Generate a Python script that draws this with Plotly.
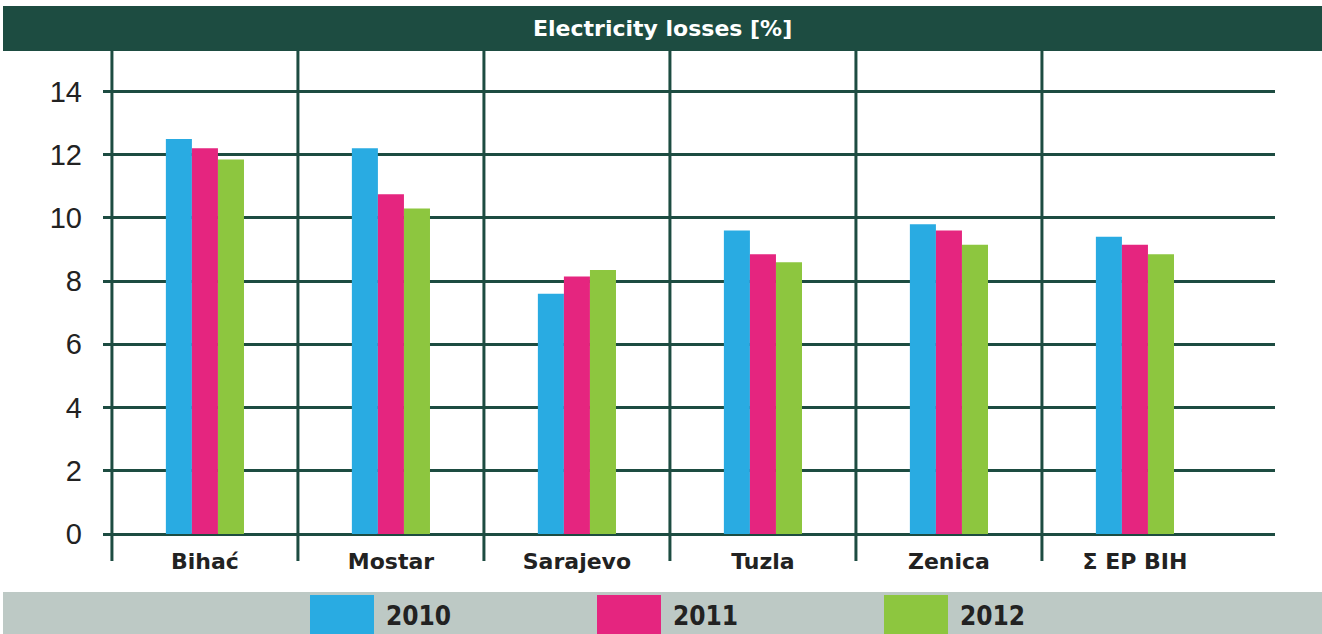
import plotly.graph_objects as go

categories = ["Bihać", "Mostar", "Sarajevo", "Tuzla", "Zenica", "Σ EP BIH"]
series_names = ["2010", "2011", "2012"]
values_2010 = [12.5, 12.2, 7.6, 9.6, 9.8, 9.4]
values_2011 = [12.2, 10.75, 8.15, 8.85, 9.6, 9.15]
values_2012 = [11.85, 10.3, 8.35, 8.6, 9.15, 8.85]
title_text = "Electricity losses [%]"

colors = ["#29abe2", "#e5257f", "#8dc63f"]
dark = "#1d4c41"
W, H = 1322, 634
L, R, T, B = 103, 1275, 51, 534  # plot area in pixels


def px(x):
    return (x - L) / (R - L)


def py(y):
    return (B - y) / (B - T)


fig = go.Figure()
for name, vals, col in zip(series_names, [values_2010, values_2011, values_2012], colors):
    fig.add_trace(go.Bar(x=categories, y=vals, name=name, marker=dict(color=col, line=dict(width=0)),
                         showlegend=False))

bold = "DejaVu Sans, Liberation Sans, sans-serif"
cond = "DejaVu Sans Condensed, Liberation Sans Narrow, sans-serif"

shapes = []
# vertical category separators
for i in range(len(categories)):
    shapes.append(dict(type="line", xref="x", yref="paper", x0=i - 0.5, x1=i - 0.5,
                       y0=py(561), y1=1, line=dict(color=dark, width=3), layer="below"))
# title bar
shapes.append(dict(type="rect", xref="paper", yref="paper", x0=px(3), x1=px(1322),
                   y0=py(51), y1=py(6), fillcolor=dark, line=dict(width=0)))
# legend bar
shapes.append(dict(type="rect", xref="paper", yref="paper", x0=px(3), x1=px(1322),
                   y0=py(634), y1=py(592), fillcolor="#bdc9c5", line=dict(width=0)))

annotations = [dict(text="<b>" + title_text + "</b>", xref="paper", yref="paper", x=px(662), y=py(29),
                    xanchor="center", yanchor="middle", showarrow=False,
                    font=dict(family=bold, size=22, color="white"))]

for i, (name, col) in enumerate(zip(series_names, colors)):
    x0 = 310 + i * 287
    shapes.append(dict(type="rect", xref="paper", yref="paper", x0=px(x0), x1=px(x0 + 64),
                       y0=py(634), y1=py(595), fillcolor=col, line=dict(width=0)))
    annotations.append(dict(text="<b>" + name + "</b>", xref="paper", yref="paper", x=px(x0 + 74), y=py(616),
                            xanchor="left", yanchor="middle", showarrow=False,
                            font=dict(family=cond, size=26, color="#222222")))

fig.update_layout(
    width=W, height=H,
    margin=dict(l=L, r=W - R, t=T, b=H - B, pad=0),
    paper_bgcolor="white", plot_bgcolor="white",
    barmode="group", bargap=0.58, bargroupgap=0,
    shapes=shapes, annotations=annotations,
    showlegend=False,
    xaxis=dict(type="category", range=[-0.548, 5.753], showgrid=False, zeroline=False,
               showline=False, ticks="",
               tickfont=dict(family=bold, size=22, color="#222222"),
               ticklabelstandoff=12),
    yaxis=dict(range=[0, (B - T) / 31.61], dtick=2, tick0=0, showgrid=True, gridcolor=dark, gridwidth=3,
               zeroline=True, zerolinecolor=dark, zerolinewidth=3, showline=False, ticks="",
               tickfont=dict(family="Liberation Sans, Arial, sans-serif", size=29, color="#222222"),
               ticklabelstandoff=20),
)
fig.update_xaxes(tickprefix="<b>", ticksuffix="</b>")

fig.write_html("out.html", config={"displayModeBar": False},
               post_script="document.body.style.margin='0';document.body.style.overflow='hidden';")
